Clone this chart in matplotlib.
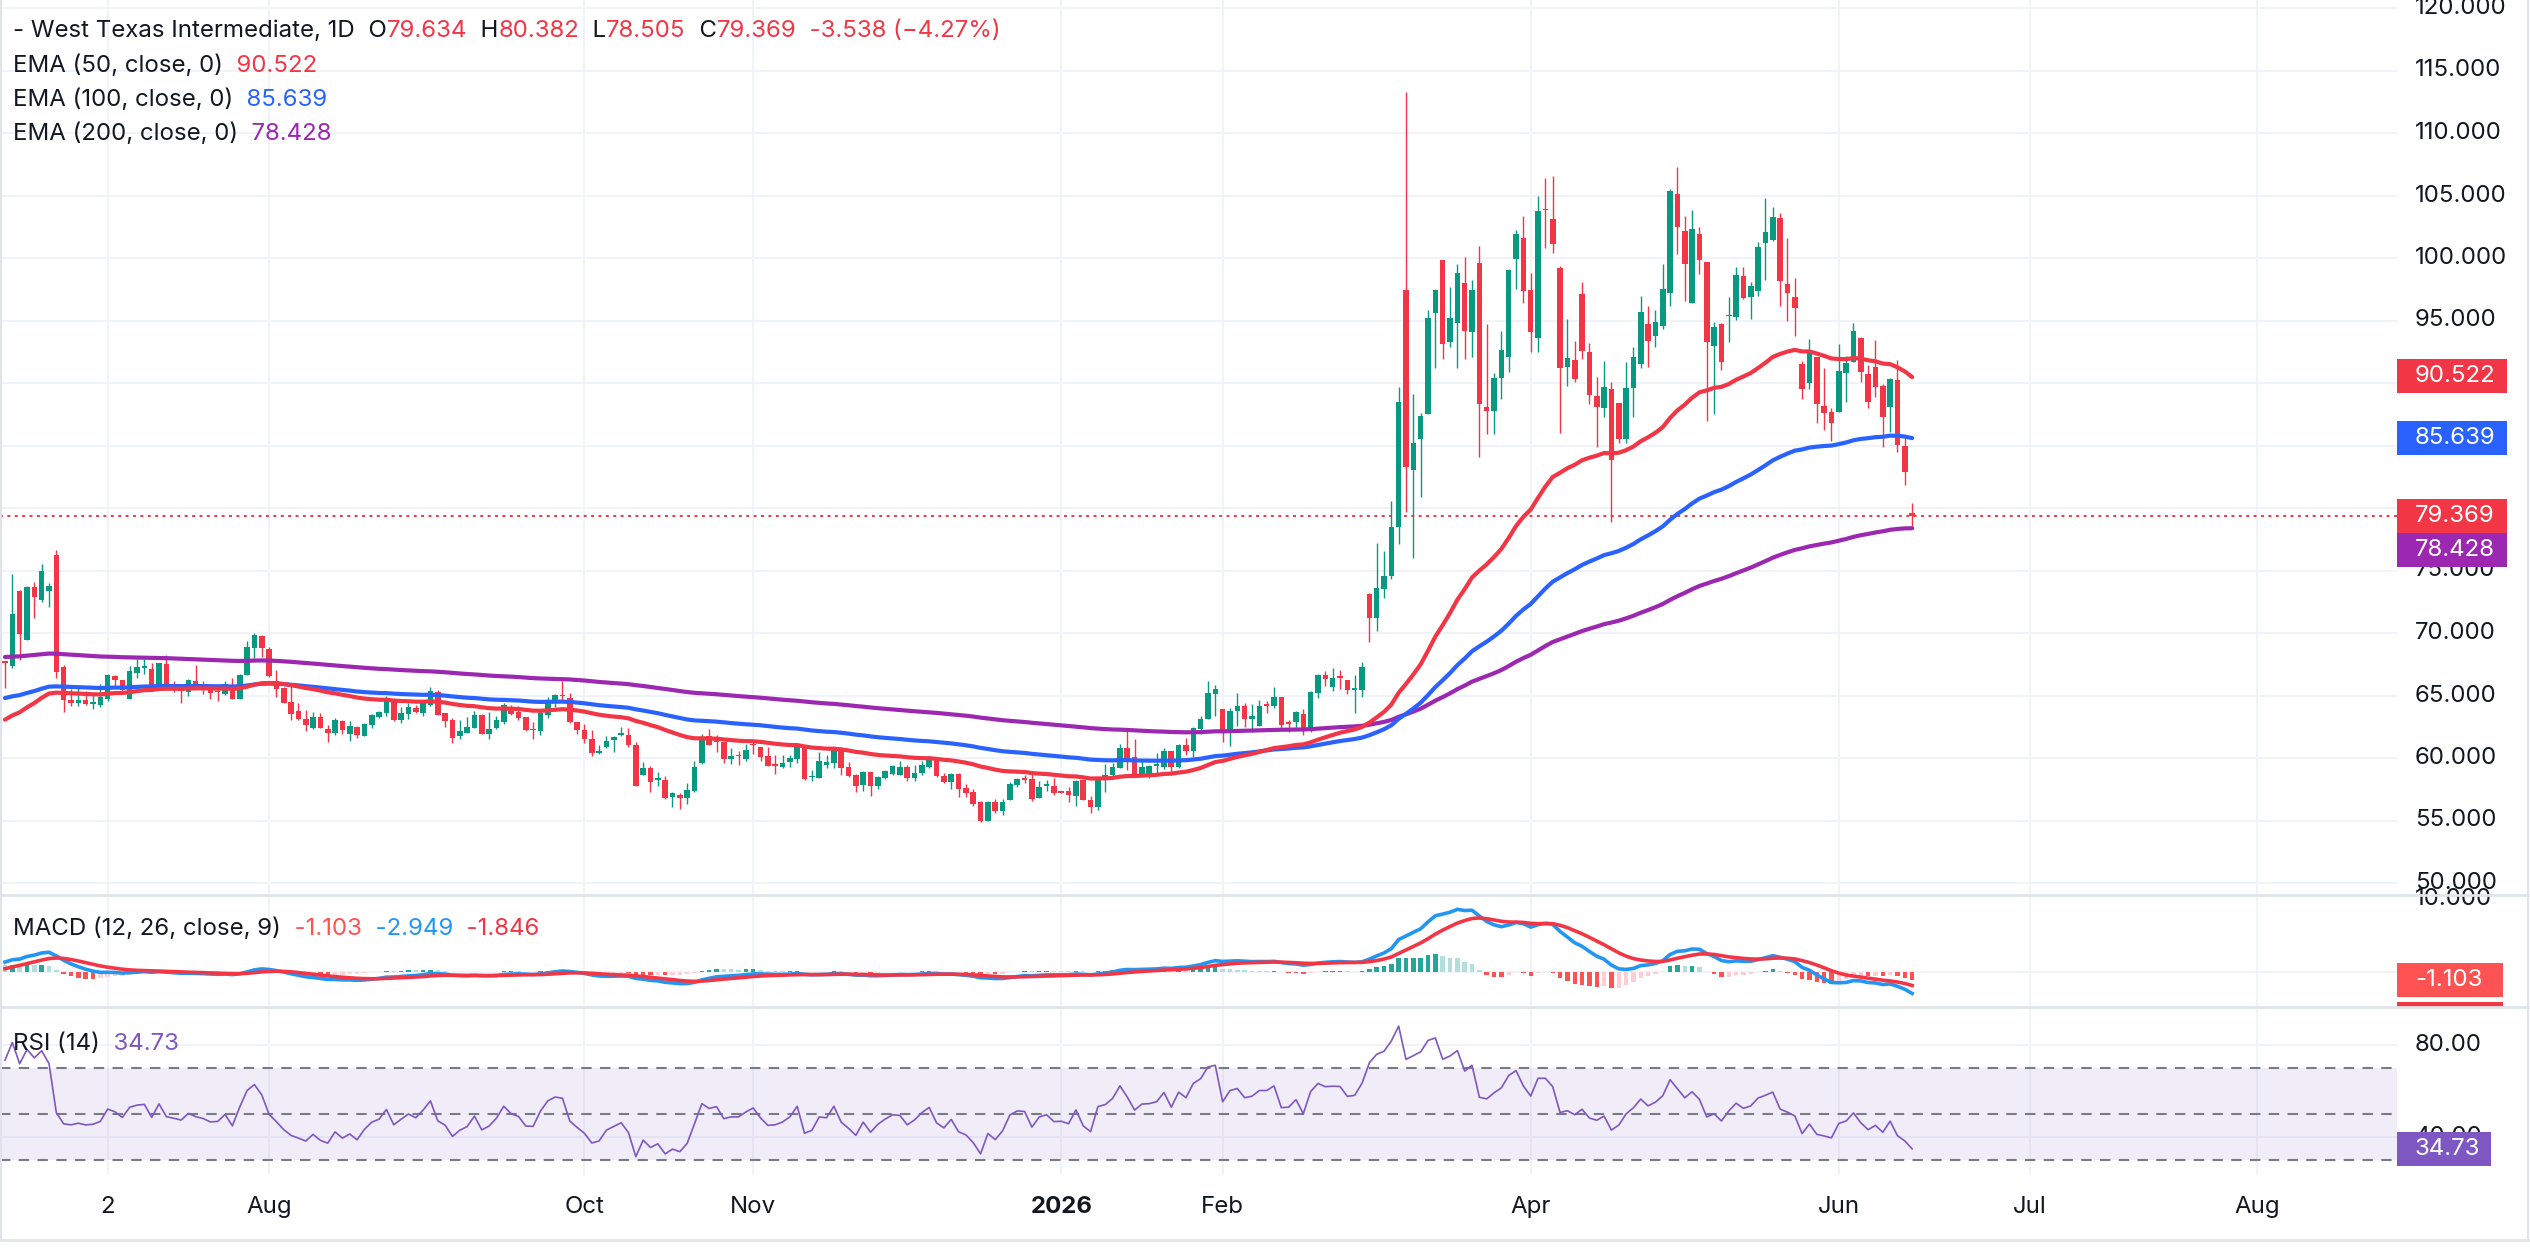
import numpy as np
import matplotlib
matplotlib.use("Agg")
import matplotlib.pyplot as plt
from matplotlib.patches import Rectangle
from matplotlib.transforms import blended_transform_factory, Bbox, TransformedBbox

# Daily candles (first bar ~ mid June 2025, last ~ mid June 2026)
OPEN = [
    67.73, 67.33, 73.33, 69.44, 73.65, 72.61, 73.39, 76.27, 67.25, 64.67,
    64.40, 64.67, 64.32, 64.21, 64.72, 66.53, 66.21, 64.75, 66.80, 67.20,
    67.12, 65.73, 67.52, 65.92, 65.81, 65.28, 66.13, 65.92, 65.73, 65.39,
    65.12, 65.87, 64.72, 66.67, 68.80, 69.73, 68.72, 66.13, 65.60, 64.45,
    63.77, 63.10, 62.43, 63.29, 62.30, 61.98, 62.97, 61.90, 62.51, 61.76,
    62.65, 63.32, 63.58, 64.57, 63.05, 63.56, 63.98, 63.64, 64.25, 65.29,
    63.58, 63.05, 61.76, 62.03, 62.43, 63.45, 61.95, 62.43, 62.89, 64.12,
    63.64, 63.24, 62.30, 62.17, 63.45, 64.44, 65.05, 64.79, 62.91, 62.22,
    61.55, 60.41, 60.86, 61.47, 61.82, 61.82, 61.02, 58.68, 59.21, 58.28,
    58.22, 56.89, 57.08, 56.81, 57.40, 59.61, 61.74, 61.61, 61.26, 59.95,
    60.22, 59.95, 61.13, 60.86, 60.14, 59.47, 59.26, 59.69, 59.95, 60.89,
    58.49, 58.41, 59.47, 59.61, 60.67, 59.26, 58.68, 57.82, 58.86, 57.74,
    58.41, 58.76, 58.62, 59.26, 58.41, 58.81, 59.29, 60.01, 58.60, 58.09,
    58.73, 57.61, 57.26, 56.49, 54.95, 56.46, 55.74, 56.62, 57.85, 58.41,
    58.33, 56.81, 57.80, 57.74, 57.32, 57.34, 56.94, 58.20, 56.68, 56.09,
    58.36, 58.68, 59.21, 60.81, 60.06, 58.68, 58.60, 59.39, 59.26, 60.54,
    59.29, 61.02, 60.59, 62.35, 63.15, 65.12, 63.92, 61.98, 63.74, 64.14,
    63.12, 62.59, 64.33, 64.14, 64.86, 62.86, 62.86, 63.52, 62.14, 65.18,
    66.65, 65.66, 66.54, 66.27, 65.47, 65.45, 73.13, 71.23, 73.52, 74.59,
    78.47, 97.44, 83.07, 85.50, 87.51, 95.58, 99.85, 93.28, 94.84, 98.02,
    94.08, 99.64, 88.10, 87.79, 90.41, 92.06, 99.91, 101.64, 97.45, 93.59,
    103.93, 103.13, 99.24, 91.27, 91.85, 97.13, 92.52, 88.97, 87.99, 89.53,
    88.44, 85.53, 89.64, 91.53, 94.71, 93.80, 94.57, 97.19, 105.11, 102.12,
    96.39, 101.93, 99.64, 92.97, 94.73, 95.37, 95.32, 98.60, 96.92, 97.40,
    101.19, 101.45, 103.19, 97.93, 96.84, 91.51, 89.99, 92.12, 88.20, 87.67,
    87.72, 90.79, 91.72, 93.59, 90.73, 91.32, 89.72, 88.07, 90.25, 84.97, 79.634,
]
HIGH = [
    67.80, 74.72, 73.47, 73.73, 74.05, 75.52, 73.97, 76.67, 67.47, 65.52,
    65.87, 65.39, 65.12, 65.95, 66.72, 66.61, 66.27, 67.33, 67.95, 67.92,
    67.60, 67.60, 68.27, 66.13, 65.81, 66.32, 67.41, 66.13, 65.87, 65.73,
    66.13, 66.40, 66.75, 69.33, 70.00, 69.81, 68.88, 67.01, 65.65, 66.02,
    64.39, 63.85, 63.69, 63.58, 62.65, 63.24, 63.05, 62.97, 62.57, 62.83,
    63.50, 63.77, 64.97, 64.63, 64.04, 64.44, 64.25, 64.63, 65.70, 65.45,
    63.58, 63.18, 63.05, 63.32, 63.77, 63.50, 63.69, 63.37, 64.39, 64.25,
    64.17, 63.32, 62.89, 63.77, 64.90, 65.16, 66.18, 65.19, 62.91, 62.70,
    62.25, 61.07, 61.79, 61.79, 62.46, 62.41, 61.29, 59.66, 59.34, 58.86,
    58.59, 57.29, 57.21, 58.01, 59.74, 61.95, 62.33, 61.87, 61.26, 60.81,
    60.54, 61.13, 61.34, 60.91, 60.86, 60.27, 60.27, 60.27, 61.21, 61.02,
    59.07, 60.46, 60.22, 60.89, 60.89, 59.66, 58.76, 59.00, 58.86, 58.54,
    59.08, 59.42, 59.74, 59.47, 59.42, 59.74, 60.19, 60.01, 58.81, 58.81,
    58.81, 57.96, 57.56, 56.54, 56.54, 56.76, 56.73, 58.06, 58.41, 58.62,
    58.73, 58.14, 58.28, 58.41, 57.32, 57.69, 58.28, 58.20, 57.00, 58.49,
    59.55, 59.61, 61.15, 62.14, 61.55, 59.95, 59.47, 60.41, 60.81, 60.59,
    61.13, 61.61, 62.46, 63.34, 66.19, 65.81, 63.92, 63.98, 65.21, 64.40,
    64.33, 64.67, 64.54, 65.66, 64.86, 63.04, 63.74, 63.92, 65.39, 66.73,
    66.99, 67.21, 67.07, 66.27, 66.67, 67.71, 73.20, 77.19, 76.58, 80.55,
    89.65, 113.29, 89.10, 87.57, 95.88, 97.50, 99.85, 97.65, 99.55, 100.09,
    98.26, 100.95, 94.69, 90.78, 94.20, 99.09, 102.25, 103.40, 98.84, 105.00,
    106.44, 106.60, 99.37, 95.13, 93.37, 98.12, 93.19, 90.52, 91.77, 90.12,
    88.44, 91.67, 92.87, 97.00, 96.20, 95.85, 99.51, 105.51, 107.32, 103.37,
    103.85, 102.52, 99.72, 94.92, 94.84, 96.92, 99.32, 99.32, 98.12, 101.32,
    104.79, 104.12, 103.59, 101.64, 98.44, 91.77, 93.51, 92.12, 91.24, 87.99,
    93.13, 92.20, 94.84, 93.72, 91.45, 93.45, 89.91, 90.39, 91.85, 85.72, 80.382,
]
LOW = [
    65.60, 67.20, 67.84, 69.40, 71.20, 72.45, 72.05, 66.40, 63.68, 64.19,
    64.19, 64.21, 63.95, 64.08, 64.59, 65.71, 65.33, 64.72, 66.40, 66.72,
    65.68, 65.55, 65.73, 65.28, 64.40, 64.93, 65.73, 65.12, 64.72, 64.59,
    65.07, 64.72, 64.72, 66.61, 68.00, 68.08, 66.48, 64.88, 64.40, 63.01,
    63.02, 62.17, 62.35, 62.43, 61.28, 61.85, 61.90, 61.36, 61.63, 61.76,
    62.43, 63.24, 63.37, 62.97, 62.83, 63.16, 63.64, 63.37, 64.17, 63.45,
    62.49, 61.23, 61.55, 62.03, 62.43, 61.95, 61.50, 62.30, 62.70, 63.45,
    63.02, 62.17, 61.55, 61.82, 63.24, 64.04, 64.57, 62.83, 61.95, 61.23,
    60.14, 60.33, 60.81, 60.49, 61.74, 60.86, 57.80, 58.68, 57.29, 57.74,
    56.73, 56.09, 55.93, 56.33, 57.26, 59.53, 61.02, 60.49, 59.61, 59.53,
    59.42, 59.79, 60.33, 59.74, 59.34, 58.73, 59.21, 59.29, 59.61, 58.22,
    58.14, 58.41, 59.21, 59.21, 58.68, 58.49, 57.29, 57.34, 57.00, 57.53,
    58.36, 58.68, 58.62, 58.14, 58.14, 58.62, 59.21, 58.46, 58.01, 57.53,
    56.89, 56.89, 56.20, 54.89, 54.95, 55.61, 55.48, 56.62, 57.69, 58.01,
    56.54, 56.81, 57.40, 57.02, 57.24, 56.49, 56.20, 56.68, 55.61, 55.88,
    57.29, 58.41, 59.21, 59.02, 58.49, 58.62, 58.41, 58.68, 59.16, 58.81,
    59.21, 60.27, 60.06, 61.95, 63.15, 63.39, 61.26, 60.94, 62.59, 62.46,
    62.06, 62.54, 63.58, 63.98, 62.32, 62.06, 62.46, 61.87, 62.06, 64.81,
    65.79, 65.39, 65.53, 65.13, 63.60, 64.86, 69.25, 70.16, 72.76, 74.29,
    77.10, 79.70, 75.97, 80.91, 87.51, 91.24, 91.91, 92.92, 91.24, 91.91,
    92.06, 84.06, 85.89, 85.89, 88.76, 90.87, 97.53, 96.39, 92.47, 92.47,
    100.79, 100.39, 85.99, 89.80, 90.07, 91.91, 88.31, 84.87, 87.32, 78.92,
    85.19, 85.19, 87.32, 91.24, 91.32, 92.92, 94.33, 96.17, 100.31, 96.57,
    96.39, 98.71, 86.97, 87.53, 91.05, 93.32, 95.05, 96.71, 95.11, 97.00,
    98.25, 101.40, 96.20, 95.00, 93.80, 88.71, 89.51, 86.79, 86.28, 85.40,
    87.72, 88.52, 91.72, 90.12, 87.99, 88.92, 84.87, 86.07, 84.52, 81.85, 78.505,
]
CLOSE = [
    67.60, 71.55, 69.92, 73.65, 72.88, 74.99, 73.73, 66.88, 64.61, 64.40,
    64.67, 64.35, 64.45, 64.85, 66.67, 66.27, 65.47, 66.93, 67.25, 67.36,
    65.73, 67.60, 65.87, 65.65, 65.39, 66.21, 65.81, 65.60, 65.20, 65.25,
    65.92, 64.72, 66.67, 68.88, 69.81, 68.80, 66.53, 65.55, 64.40, 63.52,
    63.10, 62.65, 63.29, 62.43, 62.03, 63.05, 62.22, 62.59, 61.84, 62.75,
    63.42, 63.69, 64.63, 63.05, 63.58, 64.09, 63.72, 64.44, 65.37, 63.45,
    62.97, 61.63, 62.17, 62.49, 63.45, 61.95, 62.30, 63.02, 64.23, 63.50,
    63.24, 62.25, 62.22, 63.58, 64.63, 65.05, 64.95, 62.91, 62.22, 61.56,
    60.38, 60.54, 61.39, 61.69, 61.98, 61.02, 57.80, 59.21, 58.09, 58.41,
    56.81, 57.21, 56.81, 57.48, 59.26, 61.61, 61.07, 61.29, 59.95, 60.14,
    60.14, 60.62, 61.02, 60.09, 59.34, 59.39, 59.61, 60.01, 60.89, 58.33,
    58.57, 59.74, 59.66, 60.73, 59.21, 58.54, 57.74, 58.89, 57.74, 58.46,
    58.94, 59.34, 59.29, 58.41, 58.81, 59.42, 59.87, 58.54, 58.06, 58.73,
    57.53, 57.21, 56.36, 54.95, 56.49, 55.74, 56.46, 57.93, 58.33, 58.28,
    56.73, 57.66, 57.88, 57.21, 57.24, 57.02, 58.14, 56.68, 56.09, 58.41,
    58.62, 59.29, 60.81, 59.87, 58.62, 59.29, 59.34, 59.53, 60.54, 59.29,
    61.02, 60.54, 62.41, 63.15, 65.20, 65.52, 61.98, 63.79, 64.14, 63.12,
    63.34, 64.19, 64.19, 64.86, 62.67, 62.72, 63.66, 62.14, 65.26, 66.67,
    66.33, 66.41, 66.38, 65.45, 65.58, 67.26, 71.23, 73.58, 74.53, 78.47,
    88.49, 83.30, 85.22, 87.33, 95.21, 97.41, 93.16, 95.21, 98.81, 94.20,
    97.44, 88.34, 87.79, 90.41, 92.67, 99.03, 101.93, 97.40, 94.12, 103.80,
    103.83, 101.11, 91.19, 91.99, 90.31, 92.60, 89.05, 88.12, 89.64, 83.85,
    85.53, 89.64, 92.07, 95.72, 93.37, 94.87, 97.51, 105.37, 102.52, 99.53,
    102.33, 99.85, 93.27, 94.52, 91.67, 95.45, 98.65, 96.84, 97.77, 100.92,
    102.04, 103.32, 98.20, 97.19, 95.99, 89.51, 92.44, 88.31, 87.59, 86.79,
    90.92, 91.64, 94.12, 90.92, 88.47, 89.67, 87.27, 90.31, 85.05, 82.907, 79.369,
]

# indicator state at the first visible bar
EMA_SEEDS = {50: 63.07, 100: 64.80, 200: 68.08}
MACD_SEEDS = (66.36, 65.00, 0.45)   # ema12, ema26, signal
RSI_SEEDS = (0.55, 0.20)            # avg gain, avg loss

TICK_LABELS = ["2", "Aug", "Oct", "Nov", "2026", "Feb", "Apr", "Jun", "Jul", "Aug"]
TICK_BARS = [14, 36, 79, 102, 144, 166, 208, 250, 276.1, 307]
PRICE_GRID = list(range(50, 121, 5))
# price labels that are not covered by the value boxes
PRICE_LABELS = [50, 55, 60, 65, 70, 75, 95, 100, 105, 110, 115, 120]

LAST_PRICE = 79.369

DARK = "#131722"
GREEN = "#089981"
RED = "#F23645"
BLUE = "#2962FF"
PURPLE = "#9C27B0"
MACD_BLUE = "#2196F3"
RSI_COL = "#7E57C2"
GRID = "#F0F3FA"
SEP = "#E0E3EB"

W, H = 2530, 1253
PLOT_RIGHT = 2397
LABEL_X = 2415 / PLOT_RIGHT
FS = 17.3

plt.rcParams["font.family"] = ["Inter", "DejaVu Sans"]


def ema(values, n, seed):
    a = 2.0 / (n + 1)
    out = [seed]
    for v in values[1:]:
        out.append(out[-1] + a * (v - out[-1]))
    return np.array(out)


def rsi(close, n, g0, l0):
    ag, al = g0, l0
    out = [100 - 100 / (1 + ag / al)]
    for i in range(1, len(close)):
        d = close[i] - close[i - 1]
        ag = (ag * (n - 1) + max(d, 0)) / n
        al = (al * (n - 1) + max(-d, 0)) / n
        out.append(100 - 100 / (1 + ag / al))
    return np.array(out)


def fx(px):
    return px / W


def fy(py):
    return 1 - py / H


def price_box(ax, y, text, color, right_px, units_per_px, clip=False):
    trans = blended_transform_factory(ax.transAxes, ax.transData)
    h = 34 * units_per_px
    rect = Rectangle((1.0, y - h / 2), right_px / PLOT_RIGHT - 1.0, h,
                     transform=trans, facecolor=color, edgecolor="none",
                     zorder=10, clip_on=clip)
    ax.add_patch(rect)
    if clip:
        rect.set_clip_path(None)
        rect.set_clip_box(TransformedBbox(Bbox([[1.0, 0.0], [1.1, 1.0]]), ax.transAxes))
        return
    ax.text(LABEL_X, y, text, transform=trans, color="white", fontsize=FS,
            va="center", ha="left", clip_on=False, zorder=11)


def axis_label(ax, y, text):
    trans = blended_transform_factory(ax.transAxes, ax.transData)
    ax.text(LABEL_X, y, text, transform=trans, color=DARK, fontsize=FS,
            va="center", ha="left", clip_on=False, zorder=5)


def main():
    o, h, l, c = map(np.array, (OPEN, HIGH, LOW, CLOSE))
    idx = np.arange(len(c))

    ema50 = ema(c, 50, EMA_SEEDS[50])
    ema100 = ema(c, 100, EMA_SEEDS[100])
    ema200 = ema(c, 200, EMA_SEEDS[200])
    macd = ema(c, 12, MACD_SEEDS[0]) - ema(c, 26, MACD_SEEDS[1])
    signal = ema(macd, 9, MACD_SEEDS[2])
    hist = macd - signal
    rsi14 = rsi(c, 14, *RSI_SEEDS)

    fig = plt.figure(figsize=(W / 100, H / 100), dpi=100)
    fig.patch.set_facecolor("white")
    ax_p = fig.add_axes([0, fy(895), fx(PLOT_RIGHT), 895 / H])
    ax_m = fig.add_axes([0, fy(1007), fx(PLOT_RIGHT), 112 / H])
    ax_r = fig.add_axes([0, fy(1175), fx(PLOT_RIGHT), 168 / H])

    for ax in (ax_p, ax_m, ax_r):
        ax.set_xlim(-0.68, 326.1)
        ax.set_xticks([])
        ax.set_yticks([])
        ax.set_facecolor("none")
        for s in ax.spines.values():
            s.set_visible(False)
        for t in TICK_BARS:
            ax.axvline(t, color=GRID, lw=1.4, zorder=0)

    # price panel
    ax_p.set_ylim(49.04, 120.64)
    for p in PRICE_GRID:
        ax_p.axhline(p, color=GRID, lw=1.4, zorder=0)
    for p in PRICE_LABELS:
        axis_label(ax_p, p, f"{p:.3f}")
    colors = np.where(c >= o, GREEN, RED)
    ax_p.vlines(idx, l, h, colors=colors, lw=1.0, zorder=3)
    body_lo = np.minimum(o, c)
    body_h = np.maximum(np.abs(c - o), 0.1)
    ax_p.bar(idx, body_h, bottom=body_lo, width=0.76, color=colors,
             linewidth=0, zorder=4)
    ax_p.plot(idx, ema200, color=PURPLE, lw=3.0, zorder=5, solid_capstyle="round")
    ax_p.plot(idx, ema100, color=BLUE, lw=3.0, zorder=5, solid_capstyle="round")
    ax_p.plot(idx, ema50, color=RED, lw=3.0, zorder=5, solid_capstyle="round")
    ax_p.axhline(LAST_PRICE, color=RED, lw=1.4, linestyle=(0, (1.5, 2.3)), zorder=2)

    upp = 71.6 / 895
    price_box(ax_p, 90.522, "90.522", RED, 2507, upp)
    price_box(ax_p, 85.639, "85.639", BLUE, 2507, upp)
    price_box(ax_p, LAST_PRICE, "79.369", RED, 2507, upp)
    price_box(ax_p, LAST_PRICE - 34 * upp, "78.428", PURPLE, 2507, upp)

    # MACD panel
    ax_m.set_ylim(-4.8, 10.55)
    ax_m.axhline(0, color=GRID, lw=1.4, zorder=0)
    hcol = []
    for i, v in enumerate(hist):
        prev = hist[i - 1] if i else v
        if v >= 0:
            hcol.append("#26A69A" if v > prev else "#B2DFDB")
        else:
            hcol.append("#FF5252" if v < prev else "#FFCDD2")
    ax_m.bar(idx, hist, width=0.6, color=hcol, linewidth=0, zorder=2)
    ax_m.plot(idx, macd, color=MACD_BLUE, lw=2.6, zorder=3)
    ax_m.plot(idx, signal, color=RED, lw=2.6, zorder=4)
    axis_label(ax_m, 10, "10.000")
    upm = 15.35 / 112
    price_box(ax_m, -1.846 - 34 * upm, "", RED, 2503, upm, clip=True)
    price_box(ax_m, -1.103, "-1.103", "#FF5252", 2503, upm)

    # RSI panel
    ax_r.set_ylim(23.6, 96.4)
    for g in (80, 40):
        ax_r.axhline(g, color=GRID, lw=1.4, zorder=0)
    ax_r.axhspan(30, 70, color=RSI_COL, alpha=0.1, lw=0, zorder=0)
    for g in (70, 50, 30):
        ax_r.axhline(g, color="#787B86", lw=1.5, linestyle=(0, (5, 4)), zorder=1)
    ax_r.plot(idx, rsi14, color=RSI_COL, lw=1.2, zorder=3)
    axis_label(ax_r, 80, "80.00")
    axis_label(ax_r, 40, "40.00")
    price_box(ax_r, 34.73, "34.73", RSI_COL, 2491, 72.8 / 168)

    # panel separators and frame
    for yy in (895, 1007):
        fig.add_artist(plt.Line2D([0, 1], [fy(yy), fy(yy)], color=SEP, lw=2.0))
    fig.add_artist(plt.Line2D([0, 1], [fy(1240), fy(1240)], color=SEP, lw=2.0))
    fig.add_artist(plt.Line2D([fx(1), fx(1)], [fy(0), fy(1240)], color=SEP, lw=1.5))
    fig.add_artist(plt.Line2D([fx(2528), fx(2528)], [fy(0), fy(1240)], color=SEP, lw=1.5))

    # time axis
    tt = blended_transform_factory(ax_r.transData, fig.transFigure)
    for lab, pos in zip(TICK_LABELS, TICK_BARS):
        fig.text(pos, fy(1207), lab, transform=tt, ha="center", va="center",
                 fontsize=FS, color=DARK,
                 fontweight="bold" if lab == "2026" else "normal")

    # legends
    renderer = fig.canvas.get_renderer()

    def legend_line(y_px, pieces):
        x = 13
        for s, col in pieces:
            t = fig.text(fx(x), fy(y_px), s, color=col, fontsize=FS,
                         va="center", ha="left")
            x += t.get_window_extent(renderer).width

    legend_line(31, [("- West Texas Intermediate, 1D", DARK), ("  O", DARK),
                     ("79.634", RED), ("  H", DARK), ("80.382", RED),
                     ("  L", DARK), ("78.505", RED), ("  C", DARK),
                     ("79.369", RED), ("  -3.538 (\u22124.27%)", RED)])
    legend_line(66, [("EMA (50, close, 0)", DARK), ("  90.522", RED)])
    legend_line(100, [("EMA (100, close, 0)", DARK), ("  85.639", BLUE)])
    legend_line(134, [("EMA (200, close, 0)", DARK), ("  78.428", PURPLE)])
    legend_line(929, [("MACD (12, 26, close, 9)", DARK), ("  -1.103", "#FF5252"),
                      ("  -2.949", MACD_BLUE), ("  -1.846", RED)])
    legend_line(1044, [("RSI (14)", DARK), ("  34.73", RSI_COL)])

    fig.savefig("out.png", dpi=100)


if __name__ == "__main__":
    main()
